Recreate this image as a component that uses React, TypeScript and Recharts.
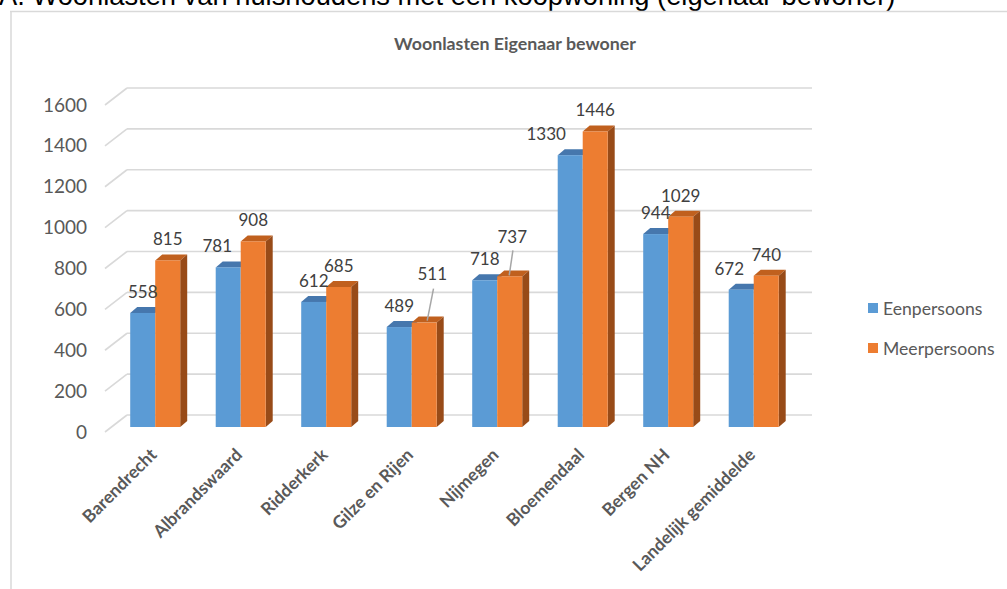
import React from 'react';
import { BarChart, Bar, XAxis, YAxis, CartesianGrid, Legend, LabelList } from 'recharts';

const categories = ['Barendrecht', 'Albrandswaard', 'Ridderkerk', 'Gilze en Rijen', 'Nijmegen', 'Bloemendaal', 'Bergen NH', 'Landelijk gemiddelde'];
const eenpersoons = [558, 781, 612, 489, 718, 1330, 944, 672];
const meerpersoons = [815, 908, 685, 511, 737, 1446, 1029, 740];
const yTicks = [0, 200, 400, 600, 800, 1000, 1200, 1400, 1600];
const seriesNames = ['Eenpersoons', 'Meerpersoons'];
const pageTitle = 'A. Woonlasten van huishoudens met een koopwoning (eigenaar-bewoner)';
const chartTitle = 'Woonlasten Eigenaar bewoner';

const data = categories.map((c, i) => ({ name: c, een: eenpersoons[i], meer: meerpersoons[i] }));

const BLUE = '#5b9bd5';
const BLUE_TOP = '#4677ad';
const ORANGE = '#ed7d31';
const ORANGE_TOP = '#c0601e';
const ORANGE_SIDE = '#984b18';
const DX = 7;
const DY = -6;
const FONT = 'Lato, "Open Sans", sans-serif';

// label layout tweaks (Excel placed some labels manually)
const blueShift: Record<number, any> = { 1: { dx: -11 }, 5: { dx: -24 }, 7: { dx: -12 } };
const orangeShift: Record<number, any> = {
  3: { dx: 8, dy: -27.5, leader: [1.3, 15, 3, -2] },
  4: { dx: 2.5, dy: -18.5, leader: [0.7, 14, -0.5, -1] },
};

const blueShape = (p: any) => {
  const { x, y, width, height } = p;
  if (!height) return null;
  return (
    <g>
      <polygon points={`${x},${y} ${x + DX},${y + DY} ${x + width + DX},${y + DY} ${x + width},${y}`} fill={BLUE_TOP} />
      <rect x={x} y={y} width={width} height={height} fill={BLUE} />
    </g>
  );
};

const orangeShape = (p: any) => {
  const { x, y, width, height } = p;
  if (!height) return null;
  return (
    <g>
      <polygon points={`${x},${y} ${x + DX},${y + DY} ${x + width + DX},${y + DY} ${x + width},${y}`} fill={ORANGE_TOP} />
      <polygon points={`${x + width},${y} ${x + width + DX},${y + DY} ${x + width + DX},${y + height + DY} ${x + width},${y + height}`} fill={ORANGE_SIDE} />
      <rect x={x} y={y} width={width} height={height} fill={ORANGE} />
    </g>
  );
};

const makeLabel = (shifts: Record<number, any>) => (props: any) => {
  const vb = props.viewBox || {};
  const x = props.x ?? vb.x;
  const y = props.y ?? vb.y;
  const width = props.width ?? vb.width;
  const { value, index } = props;
  const s = shifts[index] || {};
  const bc = x + width / 2;
  const cx = bc + (s.dx || 0);
  const cy = y - 21.5 + (s.dy || 0);
  return (
    <g>
      {s.leader && (
        <line x1={cx + s.leader[0]} y1={cy + s.leader[1]} x2={bc + s.leader[2]} y2={y + s.leader[3]} stroke="#a6a6a6" strokeWidth={1.5} />
      )}
      <text x={cx} y={cy} textAnchor="middle" dominantBaseline="central" fontFamily={FONT} fontSize={17} fill="#404040">
        {value}
      </text>
    </g>
  );
};

const gridLine = (p: any) => (
  <g key={`gl-${p.index}`}>
    <line x1={p.x1 - 7} y1={p.y1 + 5} x2={p.x1 + 15} y2={p.y1 - 12} stroke="#d9d9d9" strokeWidth={1.6} />
    <line x1={p.x1 + 15} y1={p.y1 - 12} x2={p.x2 + 16} y2={p.y1 - 12} stroke="#d9d9d9" strokeWidth={1.6} />
  </g>
);

const YTick = (p: any) => (
  <text x={p.x - 25} y={p.y + 4} textAnchor="end" dominantBaseline="central" fontFamily={FONT} fontSize={19} fill="#595959">
    {p.payload.value}
  </text>
);

const XTick = (p: any) => {
  const tx = p.x + 3;
  const ty = p.y + 29;
  return (
    <text x={tx} y={ty} textAnchor="end" transform={`rotate(-45 ${tx} ${ty})`} fontFamily={FONT} fontWeight="bold" fontSize={17.5} fill="#595959">
      {p.payload.value}
    </text>
  );
};

const renderLegend = (props: any) => {
  const payload = props.payload || [];
  return (
    <div>
      {payload.map((it: any, i: number) => (
        <div key={i} style={{ display: 'flex', alignItems: 'center', height: 24, marginBottom: 16 }}>
          <span style={{ display: 'inline-block', width: 10, height: 10, background: it.color, marginLeft: 2, marginRight: 5 }} />
          <span style={{ fontFamily: FONT, fontSize: 17.6, color: '#595959', whiteSpace: 'nowrap' }}>{it.value}</span>
        </div>
      ))}
    </div>
  );
};

export default function App() {
  return (
    <div style={{ position: 'absolute', left: 0, top: 0, width: 1007, height: 589, overflow: 'hidden', background: '#fff' }}>
      <svg width={1007} height={589} style={{ position: 'absolute', left: 0, top: 0 }}>
        <text x={-1} y={5} fontFamily='"Liberation Sans", Arial, sans-serif' fontSize={27.3} fill="#000">
          {pageTitle}
        </text>
        <line x1={11} y1={11} x2={11} y2={589} stroke="#d9d9d9" strokeWidth={1.5} />
        <line x1={10} y1={11.5} x2={1007} y2={11.5} stroke="#d9d9d9" strokeWidth={1.5} />
        <text x={515} y={43} textAnchor="middle" dominantBaseline="central" fontFamily={FONT} fontWeight="bold" fontSize={17.8} fill="#595959">
          {chartTitle}
        </text>
      </svg>
      <div style={{ position: 'absolute', left: 0, top: 0 }}>
        <BarChart width={1007} height={589} data={data} margin={{ top: 100, right: 211, bottom: 132, left: 0 }} barCategoryGap="21.3%" barGap={0}>
          <CartesianGrid vertical={false} horizontal={gridLine} />
          <XAxis dataKey="name" height={30} axisLine={false} tickLine={false} tickSize={0} tickMargin={0} interval={0} tick={<XTick />} />
          <YAxis domain={[0, 1600]} ticks={yTicks} width={112} axisLine={false} tickLine={false} tickSize={0} tickMargin={0} tick={<YTick />} />
          <Legend layout="vertical" align="center" verticalAlign="middle" wrapperStyle={{ position: 'absolute', left: 866, top: 296, width: 140 }} content={renderLegend} />
          <Bar dataKey="een" name={seriesNames[0]} fill={BLUE} shape={blueShape} isAnimationActive={false}>
            <LabelList dataKey="een" content={makeLabel(blueShift)} />
          </Bar>
          <Bar dataKey="meer" name={seriesNames[1]} fill={ORANGE} shape={orangeShape} isAnimationActive={false}>
            <LabelList dataKey="meer" content={makeLabel(orangeShift)} />
          </Bar>
        </BarChart>
      </div>
    </div>
  );
}
